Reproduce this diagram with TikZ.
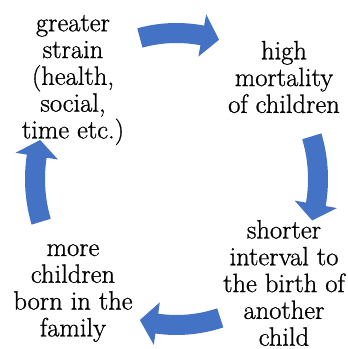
\documentclass[tikz,border=0pt]{standalone}
\usepackage{fontspec}
\newfontfamily\lblface{Latin Modern Roman}[FakeBold=0.9]
\definecolor{arrowblue}{HTML}{4472C4}
\tikzset{
  lbl/.style={align=center, font=\lblface\fontsize{26.5}{26.8}\selectfont, inner sep=0pt},
  arrowfill/.style={fill=arrowblue}
}
\newcommand\cyclearrow[3]{%
  \fill[arrowfill] (#1:151.5pt and 156pt)
    arc[start angle=#1, end angle=#2, x radius=151.5pt, y radius=156pt]
    -- (#2:163pt and 167.5pt) -- (#3:141.5pt and 146pt) -- (#2:120pt and 124.5pt)
    -- (#2:131.5pt and 136pt)
    arc[start angle=#2, end angle=#1, x radius=131.5pt, y radius=136pt] -- cycle;}
\begin{document}
\begin{tikzpicture}[x=1pt,y=1pt]
\path[use as bounding box] (0,0) rectangle (348,349);
\node[lbl] (strain) at (73,269) {greater\\strain\\(health,\\social,\\time etc.)};
\node[lbl] (mort) at (284,272) {high\\mortality\\of children};
\node[lbl] (short) at (284,66) {shorter\\interval to\\the birth of\\another\\child};
\node[lbl] (more) at (73,56) {more\\children\\born in the\\family};
\begin{scope}[shift={(176.5,170)}]
\cyclearrow{105}{79.5}{72.5}
\cyclearrow{17}{-10}{-16.5}
\cyclearrow{-72}{-98}{-105}
\cyclearrow{197}{171}{164.5}
\end{scope}
\end{tikzpicture}
\end{document}
